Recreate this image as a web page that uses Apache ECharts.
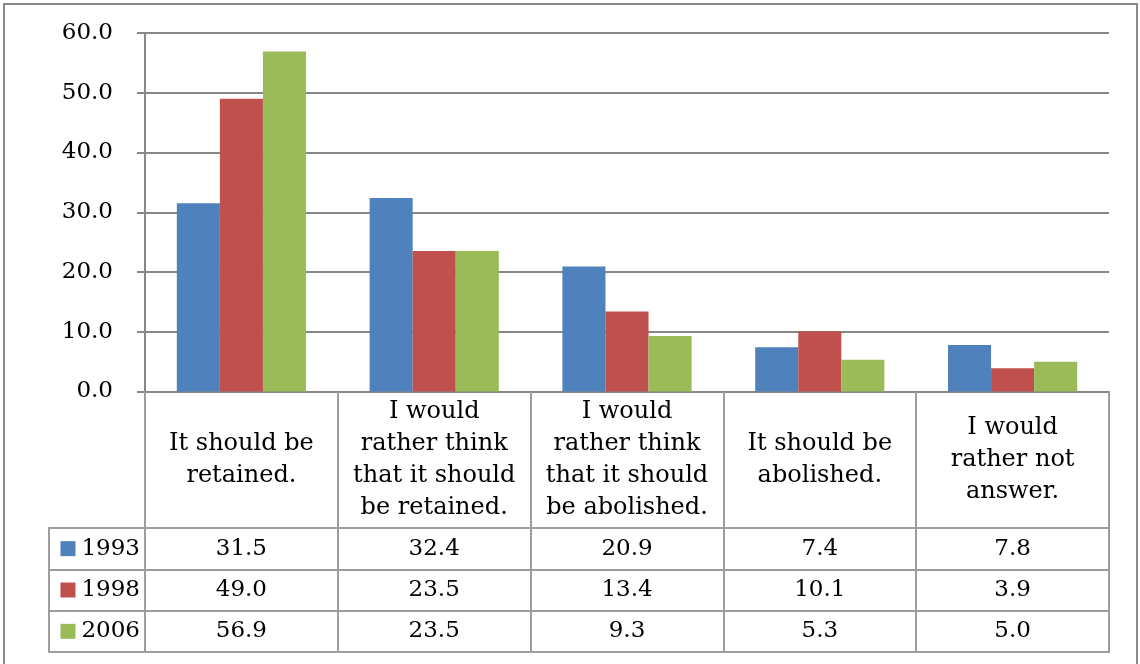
<!DOCTYPE html>
<html>
<head>
<meta charset="utf-8">
<script src="https://cdn.jsdelivr.net/npm/echarts@6.0.0/dist/echarts.min.js"></script>
<style>
  html, body { margin: 0; padding: 0; background: #fff; }
  #chart { width: 1140px; height: 664px; }
</style>
</head>
<body>
<div id="chart"></div>
<script>
// Survey answers by year (percent)
const categories = [
  'It should be\nretained.',
  'I would\nrather think\nthat it should\nbe retained.',
  'I would\nrather think\nthat it should\nbe abolished.',
  'It should be\nabolished.',
  'I would\nrather not\nanswer.'
];
const years = ['1993', '1998', '2006'];
const values1993 = [31.5, 32.4, 20.9, 7.4, 7.8];
const values1998 = [49.0, 23.5, 13.4, 10.1, 3.9];
const values2006 = [56.9, 23.5, 9.3, 5.3, 5.0];
const yTicks = { min: 0, max: 60, interval: 10 };

const colors = ['#4F81BD', '#C0504D', '#9BBB59'];
const seriesValues = [values1993, values1998, values2006];
const FONT = 'DejaVu Serif';
const AXIS_GRAY = '#878787';
const TABLE_GRAY = '#9c9c9c';
const NUM_SIZE = 23;
const TEXT_SIZE = 24;

const barSeries = years.map((y, i) => ({
  name: y,
  type: 'bar',
  xAxisIndex: 0,
  yAxisIndex: 0,
  data: seriesValues[i],
  itemStyle: { color: colors[i] },
  barGap: '0%',
  barCategoryGap: '33%'
}));

// data-table cells: one text mark per (answer, year)
const tableSeries = years.map((y, i) => ({
  name: y + ' table',
  type: 'scatter',
  xAxisIndex: 1,
  yAxisIndex: 1,
  symbolSize: 1,
  itemStyle: { color: '#ffffff', opacity: 1 },
  emphasis: { disabled: true },
  data: seriesValues[i].map((v, c) => [c, i, v]),
  encode: { x: 0, y: 1 },
  label: {
    show: true,
    position: 'inside',
    formatter: p => p.value[2].toFixed(1),
    fontFamily: FONT,
    fontSize: NUM_SIZE,
    color: '#000000',
    textBorderWidth: 0
  }
}));

const rich = {};
years.forEach((y, i) => {
  rich['sq' + i] = { width: 15, height: 15, backgroundColor: colors[i] };
});
rich.t = { fontFamily: FONT, fontSize: NUM_SIZE, color: '#000', padding: [0, 0, 0, 6] };

const option = {
  animation: false,
  backgroundColor: '#fff',
  textStyle: { fontFamily: FONT },
  graphic: [{
    type: 'rect',
    shape: { x: 4, y: 4, width: 1133, height: 700 },
    style: { fill: 'none', stroke: '#8a8a8a', lineWidth: 2 },
    silent: true
  }],
  grid: [
    { left: 145, right: 31, top: 33, bottom: 272.5 },
    { left: 145, right: 31, top: 528, bottom: 12, show: true,
      borderColor: TABLE_GRAY, borderWidth: 2 }
  ],
  xAxis: [{
    gridIndex: 0,
    type: 'category',
    data: categories,
    axisLine: { show: true, lineStyle: { color: AXIS_GRAY, width: 2 } },
    axisTick: { show: true, length: 136, lineStyle: { color: TABLE_GRAY, width: 2 } },
    axisLabel: {
      interval: 0,
      margin: 68,
      verticalAlign: 'middle',
      align: 'center',
      lineHeight: 32,
      fontFamily: FONT,
      fontSize: TEXT_SIZE,
      color: '#000'
    },
    splitLine: { show: false }
  }, {
    gridIndex: 1,
    type: 'category',
    data: categories.map((c, i) => i),
    axisLine: { show: false },
    axisTick: { show: false },
    axisLabel: { show: false },
    splitLine: { show: true, interval: 0, lineStyle: { color: TABLE_GRAY, width: 2 } }
  }],
  yAxis: [{
    gridIndex: 0,
    type: 'value',
    min: yTicks.min,
    max: yTicks.max,
    interval: yTicks.interval,
    axisLine: { show: true, lineStyle: { color: AXIS_GRAY, width: 2 } },
    axisTick: { show: true, length: 8, lineStyle: { color: AXIS_GRAY, width: 2 } },
    axisLabel: {
      margin: 32,
      formatter: v => v.toFixed(1),
      fontFamily: FONT,
      fontSize: NUM_SIZE,
      color: '#000'
    },
    splitLine: { show: true, lineStyle: { color: AXIS_GRAY, width: 2 } }
  }, {
    gridIndex: 1,
    type: 'category',
    inverse: true,
    data: years.map((y, i) => i),
    axisLine: { show: false },
    axisTick: { show: true, length: 96, interval: 0, lineStyle: { color: TABLE_GRAY, width: 2 } },
    axisLabel: {
      margin: 5,
      formatter: v => '{sq' + v + '|}{t|' + years[v] + '}',
      rich: rich
    },
    splitLine: { show: true, interval: 0, lineStyle: { color: TABLE_GRAY, width: 2 } }
  }, {
    gridIndex: 1,
    type: 'category',
    position: 'left',
    offset: 96,
    data: years.map((y, i) => i),
    axisLine: { show: true, lineStyle: { color: TABLE_GRAY, width: 2 } },
    axisTick: { show: false },
    axisLabel: { show: false },
    splitLine: { show: false }
  }],
  series: barSeries.concat(tableSeries)
};

const chart = echarts.init(document.getElementById('chart'), null, { renderer: 'canvas' });
chart.setOption(option);
</script>
</body>
</html>
